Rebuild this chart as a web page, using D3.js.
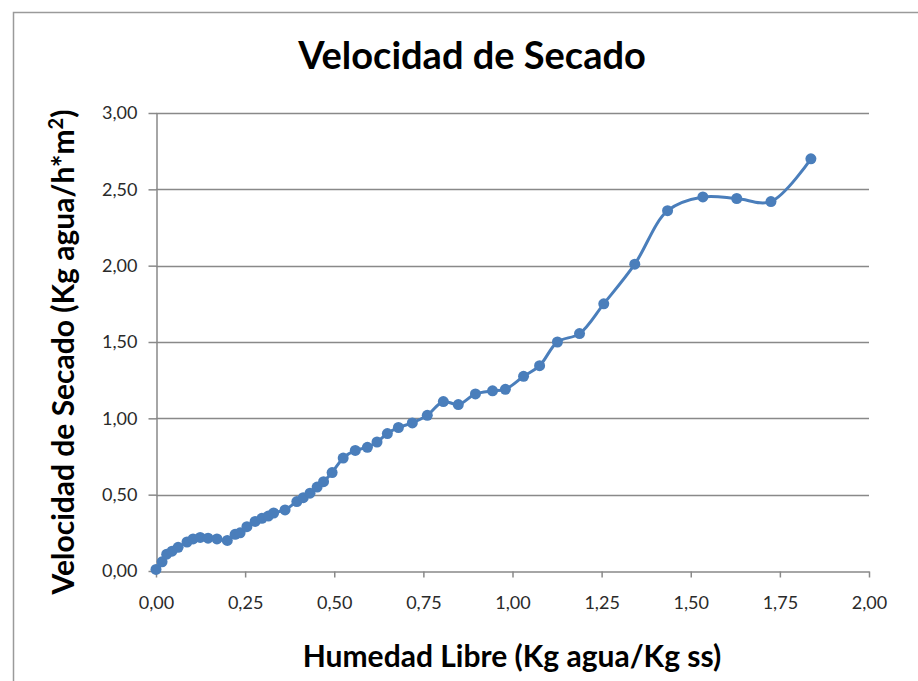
<!DOCTYPE html>
<html lang="es">
<head>
    <meta charset="UTF-8">
    <script src="https://d3js.org/d3.v7.min.js"></script>
    <style>
        body { margin: 0; background: #fff; }
        text { font-family: Lato, "Open Sans", sans-serif; }
    </style>
</head>
<body>
    <div id="chart"></div>

    <script>
        // humedad libre (Kg agua/Kg ss)
        var humedad = [0.00, 0.017, 0.03, 0.045, 0.062, 0.087, 0.104, 0.124, 0.146, 0.171,
            0.20, 0.222, 0.236, 0.255, 0.278, 0.297, 0.315, 0.33, 0.362, 0.395,
            0.413, 0.432, 0.452, 0.47, 0.494, 0.525, 0.559, 0.593, 0.62, 0.649,
            0.68, 0.719, 0.761, 0.806, 0.848, 0.896, 0.944, 0.98, 1.031, 1.076,
            1.126, 1.188, 1.256, 1.343, 1.435, 1.534, 1.629, 1.725, 1.837];
        // velocidad de secado (Kg agua/h*m2)
        var velocidad = [0.01, 0.06, 0.11, 0.13, 0.155, 0.19, 0.21, 0.22, 0.215, 0.21,
            0.20, 0.24, 0.25, 0.29, 0.325, 0.345, 0.36, 0.38, 0.40, 0.455,
            0.48, 0.51, 0.55, 0.585, 0.645, 0.74, 0.79, 0.81, 0.845, 0.90,
            0.94, 0.97, 1.02, 1.11, 1.09, 1.16, 1.18, 1.19, 1.275, 1.345,
            1.50, 1.555, 1.75, 2.01, 2.36, 2.45, 2.44, 2.42, 2.70];
        var xTicks = [0, 0.25, 0.5, 0.75, 1, 1.25, 1.5, 1.75, 2];
        var yTicks = [0, 0.5, 1, 1.5, 2, 2.5, 3];

        var width = 918, height = 681;
        var plotLeft = 156, plotRight = 869, plotTop = 113, plotBottom = 571;
        var color = "#4a7ebb", gridColor = "#898989";

        var svg = d3.select("#chart")
            .append("svg")
            .attr("width", width)
            .attr("height", height);

        // chart frame
        svg.append("rect")
            .attr("x", 13.5).attr("y", 12.5)
            .attr("width", width).attr("height", height)
            .attr("fill", "none")
            .attr("stroke", "#9a9a9a")
            .attr("stroke-width", 1.5);

        var x = d3.scaleLinear().domain([0, 2]).range([plotLeft, plotRight]);
        var y = d3.scaleLinear().domain([0, 3]).range([plotBottom, plotTop]);

        var fmt = function (d) { return d3.format(".2f")(d).replace(".", ","); };

        // gridlines
        svg.append("g")
            .selectAll("line")
            .data(yTicks.slice(1))
            .enter().append("line")
            .attr("x1", plotLeft).attr("x2", plotRight)
            .attr("y1", function (d) { return Math.round(y(d)) + 0.5; })
            .attr("y2", function (d) { return Math.round(y(d)) + 0.5; })
            .attr("stroke", gridColor)
            .attr("stroke-width", 1.5);

        var xAxis = svg.append("g")
            .attr("transform", "translate(0," + (plotBottom + 0.5) + ")")
            .call(d3.axisBottom(x).tickValues(xTicks).tickFormat(fmt).tickSize(6).tickPadding(19).tickSizeOuter(0));

        var yAxis = svg.append("g")
            .attr("transform", "translate(" + (plotLeft + 0.5) + ",0)")
            .call(d3.axisLeft(y).tickValues(yTicks).tickFormat(fmt).tickSize(8).tickPadding(11).tickSizeOuter(0));

        [xAxis, yAxis].forEach(function (a) {
            a.selectAll("path, line").attr("stroke", gridColor).attr("stroke-width", 1.5);
            a.selectAll("text")
                .style("font-family", "Lato, sans-serif")
                .style("font-size", "18px")
                .attr("fill", "#2a2a2a");
        });

        var pts = humedad.map(function (h, i) { return [h, velocidad[i]]; });

        var line = d3.line()
            .x(function (d) { return x(d[0]); })
            .y(function (d) { return y(d[1]); })
            .curve(d3.curveCatmullRom.alpha(0.5));

        svg.append("path")
            .datum(pts)
            .attr("d", line)
            .attr("fill", "none")
            .attr("stroke", color)
            .attr("stroke-width", 3);

        svg.append("g")
            .selectAll("circle")
            .data(pts)
            .enter().append("circle")
            .attr("cx", function (d) { return x(d[0]); })
            .attr("cy", function (d) { return y(d[1]); })
            .attr("r", 5.5)
            .attr("fill", color);

        // titles
        svg.append("text")
            .attr("x", 472).attr("y", 69)
            .attr("text-anchor", "middle")
            .style("font-size", "38px")
            .style("font-weight", "bold")
            .text("Velocidad de Secado");

        svg.append("text")
            .attr("x", 512).attr("y", 667)
            .attr("text-anchor", "middle")
            .style("font-size", "30px")
            .style("font-weight", "bold")
            .text("Humedad Libre (Kg agua/Kg ss)");

        var yl = svg.append("text")
            .attr("transform", "translate(74,352) rotate(-90)")
            .attr("text-anchor", "middle")
            .style("font-size", "30px")
            .style("font-weight", "bold");
        yl.append("tspan").text("Velocidad de Secado (Kg agua/h*m");
        yl.append("tspan").attr("dy", -11).style("font-size", "20px").text("2");
        yl.append("tspan").attr("dy", 11).text(")");
    </script>
</body>
</html>
